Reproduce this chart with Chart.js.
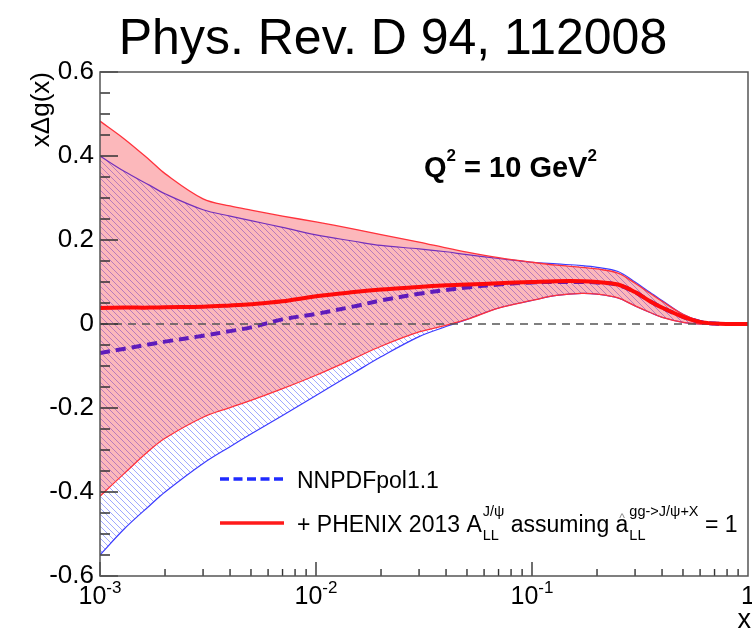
<!DOCTYPE html>
<html>
<head>
<meta charset="utf-8">
<title>x Delta g(x) at Q2 = 10 GeV2</title>
<script src="https://cdn.jsdelivr.net/npm/chart.js@4.4.1/dist/chart.umd.min.js"></script>
<style>
  html, body { margin: 0; padding: 0; background: #fff; }
  #wrap { width: 752px; height: 636px; position: relative; }
</style>
</head>
<body>
<div id="wrap"><canvas id="gluonChart" width="752" height="636"></canvas></div>
<script>
// Values (log x axis)
const xValues = [0.001, 0.0013, 0.0017, 0.002, 0.003, 0.004, 0.005, 0.007, 0.01, 0.015, 0.02,
  0.03, 0.04, 0.05, 0.07, 0.1, 0.13, 0.17, 0.2, 0.25, 0.3, 0.35, 0.4, 0.5, 0.6, 0.7, 0.8, 1.0];

// NNPDFpol1.1
const nnpdfCentral = [-0.069, -0.059, -0.048, -0.042, -0.028, -0.017, -0.008, 0.011, 0.024, 0.042, 0.056,
  0.072, 0.081, 0.087, 0.094, 0.099, 0.1, 0.1, 0.099, 0.093, 0.076, 0.055, 0.039, 0.017, 0.005, 0.001, 0, 0];
const nnpdfUpper = [0.40, 0.363, 0.33, 0.31, 0.272, 0.257, 0.246, 0.23, 0.212, 0.197, 0.187,
  0.179, 0.172, 0.165, 0.156, 0.147, 0.143, 0.139, 0.135, 0.125, 0.1, 0.076, 0.056, 0.023, 0.007, 0.001, 0, 0];
const nnpdfLower = [-0.55, -0.487, -0.432, -0.40, -0.332, -0.292, -0.262, -0.218, -0.17, -0.116, -0.078,
  -0.03, -0.006, 0.011, 0.038, 0.056, 0.068, 0.073, 0.071, 0.062, 0.043, 0.028, 0.016, 0.004, 0, 0, 0, 0];

// + PHENIX 2013 A_LL^{J/psi}
const phenixCentral = [0.038, 0.039, 0.039, 0.04, 0.041, 0.044, 0.047, 0.054, 0.066, 0.076, 0.082,
  0.088, 0.092, 0.094, 0.097, 0.1, 0.102, 0.102, 0.1, 0.094, 0.076, 0.055, 0.039, 0.017, 0.005, 0.001, 0, 0];
const phenixUpper = [0.483, 0.44, 0.39, 0.358, 0.298, 0.281, 0.271, 0.257, 0.243, 0.226, 0.213,
  0.195, 0.181, 0.171, 0.158, 0.147, 0.14, 0.135, 0.131, 0.121, 0.097, 0.074, 0.054, 0.023, 0.007, 0.001, 0, 0];
const phenixLower = [-0.41, -0.355, -0.30, -0.272, -0.222, -0.199, -0.182, -0.154, -0.122, -0.082, -0.053,
  -0.019, -0.003, 0.011, 0.038, 0.056, 0.068, 0.073, 0.071, 0.062, 0.043, 0.028, 0.016, 0.004, 0, 0, 0, 0];

// Axes
const xRange = [0.001, 1];
const yRange = [-0.6, 0.6];
const yMajorStep = 0.2;
const yMinorStep = 0.05;
const xDecades = [0.001, 0.01, 0.1, 1];
const xDecadeLabels = [["10", "-3"], ["10", "-2"], ["10", "-1"], ["1", ""]];

const FONT = "'Liberation Sans', Arial, Helvetica, sans-serif";

function pts(ys) {
  return xValues.map((x, i) => ({ x: x, y: ys[i] }));
}

// Diagonal hatching like the ROOT fill style
function makeHatch() {
  const s = 6;
  const c = document.createElement("canvas");
  c.width = s;
  c.height = s;
  const g = c.getContext("2d");
  g.strokeStyle = "rgb(160,168,255)";
  g.lineWidth = 1;
  g.beginPath();
  for (let k = -1; k <= 1; k++) {
    g.moveTo(k * s - 1, -1);
    g.lineTo(k * s + s + 1, s + 1);
  }
  g.stroke();
  return g.createPattern(c, "repeat");
}

// superscript and subscript stacked, returns advance
function supSub(ctx, x, base, sup, sub, size) {
  ctx.font = size + "px " + FONT;
  let w = 0;
  if (sup) { ctx.fillText(sup, x, base - 16); w = Math.max(w, ctx.measureText(sup).width); }
  if (sub) { ctx.fillText(sub, x, base + 8); w = Math.max(w, ctx.measureText(sub).width); }
  return w;
}

const rootStyle = {
  id: "rootStyle",
  afterDraw(chart) {
    const ctx = chart.ctx;
    const a = chart.chartArea;
    const xs = chart.scales.x;
    const ys = chart.scales.y;
    ctx.save();

    // tick marks, inside the frame
    ctx.strokeStyle = "#333";
    ctx.lineWidth = 1.4;
    ctx.setLineDash([]);
    ctx.beginPath();
    const nY = Math.round((yRange[1] - yRange[0]) / yMinorStep);
    const perMajor = Math.round(yMajorStep / yMinorStep);
    for (let i = 0; i <= nY; i++) {
      const py = ys.getPixelForValue(yRange[0] + i * yMinorStep);
      const len = i % perMajor === 0 ? 18 : 10;
      ctx.moveTo(a.left, py);
      ctx.lineTo(a.left + len, py);
    }
    for (let d = -3; d <= -1; d++) {
      for (let k = 1; k <= 9; k++) {
        const px = xs.getPixelForValue(k * Math.pow(10, d));
        const len = k === 1 ? 14 : 7;
        ctx.moveTo(px, a.bottom);
        ctx.lineTo(px, a.bottom - len);
      }
    }
    ctx.stroke();

    // frame
    ctx.strokeStyle = "#555";
    ctx.lineWidth = 1.5;
    ctx.strokeRect(a.left, a.top, a.right - a.left, a.bottom - a.top);

    ctx.fillStyle = "#000";

    // x labels 10^n
    ctx.textBaseline = "alphabetic";
    ctx.textAlign = "left";
    xDecades.forEach((v, i) => {
      const px = xs.getPixelForValue(v);
      const main = xDecadeLabels[i][0];
      const sup = xDecadeLabels[i][1];
      ctx.font = "25px " + FONT;
      const w1 = ctx.measureText(main).width;
      ctx.font = "17px " + FONT;
      const w2 = sup ? ctx.measureText(sup).width : 0;
      const x0 = px - (w1 + w2) / 2;
      ctx.font = "25px " + FONT;
      ctx.fillText(main, x0, a.bottom + 28);
      if (sup) {
        ctx.font = "17px " + FONT;
        ctx.fillText(sup, x0 + w1, a.bottom + 17);
      }
    });

    // axis titles
    ctx.font = "27px " + FONT;
    ctx.textAlign = "right";
    ctx.fillText("x", a.right + 3, a.bottom + 52);

    ctx.save();
    ctx.translate(49, a.top);
    ctx.rotate(-Math.PI / 2);
    ctx.font = "26px " + FONT;
    ctx.textAlign = "right";
    ctx.fillText("x\u0394g(x)", 0, 0);
    ctx.restore();

    // title
    ctx.textAlign = "center";
    ctx.font = "50px " + FONT;
    ctx.fillText("Phys. Rev. D 94, 112008", 393, 54);

    // Q^2 label
    ctx.textAlign = "left";
    let qx = 424;
    const qb = 177;
    ctx.font = "bold 29px " + FONT;
    ctx.fillText("Q", qx, qb); qx += ctx.measureText("Q").width;
    ctx.font = "bold 17px " + FONT;
    ctx.fillText("2", qx, qb - 16); qx += ctx.measureText("2").width;
    ctx.font = "bold 29px " + FONT;
    ctx.fillText(" = 10 GeV", qx, qb); qx += ctx.measureText(" = 10 GeV").width;
    ctx.font = "bold 17px " + FONT;
    ctx.fillText("2", qx, qb - 16);

    // legend
    ctx.lineWidth = 3.5;
    ctx.strokeStyle = "#1f2bff";
    ctx.setLineDash([9, 4.5]);
    ctx.beginPath(); ctx.moveTo(220, 479); ctx.lineTo(284, 479); ctx.stroke();
    ctx.setLineDash([]);
    ctx.strokeStyle = "#ff1a1a";
    ctx.beginPath(); ctx.moveTo(220, 523); ctx.lineTo(284, 523); ctx.stroke();

    ctx.fillStyle = "#000";
    ctx.font = "23px " + FONT;
    ctx.fillText("NNPDFpol1.1", 297, 488);

    let lx = 297;
    const lb = 532;
    ctx.font = "23px " + FONT;
    ctx.fillText("+ PHENIX 2013 A", lx, lb); lx += ctx.measureText("+ PHENIX 2013 A").width + 1;
    lx += supSub(ctx, lx, lb, "J/\u03c8", "LL", 14.5);
    ctx.font = "23px " + FONT;
    ctx.fillText(" assuming ", lx, lb); lx += ctx.measureText(" assuming ").width;
    const aw = ctx.measureText("a").width;
    ctx.fillText("a", lx, lb);
    ctx.fillStyle = "#888";
    ctx.font = "12px " + FONT;
    ctx.textAlign = "center";
    ctx.fillText("^", lx + aw / 2, lb - 10);
    ctx.textAlign = "left";
    ctx.fillStyle = "#000";
    lx += aw + 1;
    lx += supSub(ctx, lx, lb, "gg->J/\u03c8+X", "LL", 14.5);
    ctx.font = "23px " + FONT;
    ctx.fillText(" = 1", lx, lb);

    ctx.restore();
  }
};

const hatch = makeHatch();
const smooth = { tension: 0.35, pointRadius: 0 };

new Chart(document.getElementById("gluonChart"), {
  type: "line",
  data: {
    datasets: [
      Object.assign({ label: "NNPDF lower", data: pts(nnpdfLower), borderColor: "rgb(60,60,255)",
        borderWidth: 1.2, fill: 1, backgroundColor: hatch, order: 6 }, smooth),
      Object.assign({ label: "NNPDF upper", data: pts(nnpdfUpper), borderColor: "rgb(60,60,255)",
        borderWidth: 1.2, fill: false, order: 5 }, smooth),
      Object.assign({ label: "NNPDFpol1.1", data: pts(nnpdfCentral), borderColor: "#1f1fff",
        borderWidth: 4, borderDash: [10, 6], fill: false, order: 4 }, smooth),
      Object.assign({ label: "PHENIX lower", data: pts(phenixLower), borderColor: "rgb(255,50,60)",
        borderWidth: 1.3, fill: 4, backgroundColor: "rgba(245,20,30,0.3)", order: 3 }, smooth),
      Object.assign({ label: "PHENIX upper", data: pts(phenixUpper), borderColor: "rgb(255,50,60)",
        borderWidth: 1.3, fill: false, order: 2 }, smooth),
      { label: "zero", data: [{ x: xRange[0], y: 0 }, { x: xRange[1], y: 0 }], borderColor: "#555",
        borderWidth: 1.3, borderDash: [8, 6], fill: false, pointRadius: 0, order: 1 },
      Object.assign({ label: "+ PHENIX 2013", data: pts(phenixCentral), borderColor: "#ff0a0a",
        borderWidth: 4, fill: false, order: 0 }, smooth)
    ]
  },
  options: {
    responsive: false,
    animation: false,
    layout: { padding: { top: 72, right: 4, bottom: 0, left: 0 } },
    plugins: {
      legend: { display: false },
      title: { display: false },
      tooltip: { enabled: false }
    },
    scales: {
      x: {
        type: "logarithmic",
        min: xRange[0],
        max: xRange[1],
        ticks: { display: false },
        grid: { display: false, drawTicks: false },
        border: { display: false },
        afterFit(scale) { scale.height = 60; }
      },
      y: {
        type: "linear",
        min: yRange[0],
        max: yRange[1],
        ticks: {
          stepSize: yMajorStep,
          padding: 6,
          color: "#000",
          font: { size: 26, family: FONT },
          callback: (v) => (Math.abs(v) < 1e-9 ? "0" : v.toFixed(1))
        },
        grid: { display: false, drawTicks: false },
        border: { display: false },
        afterFit(scale) { scale.width = 100; }
      }
    }
  },
  plugins: [rootStyle]
});
</script>
</body>
</html>
